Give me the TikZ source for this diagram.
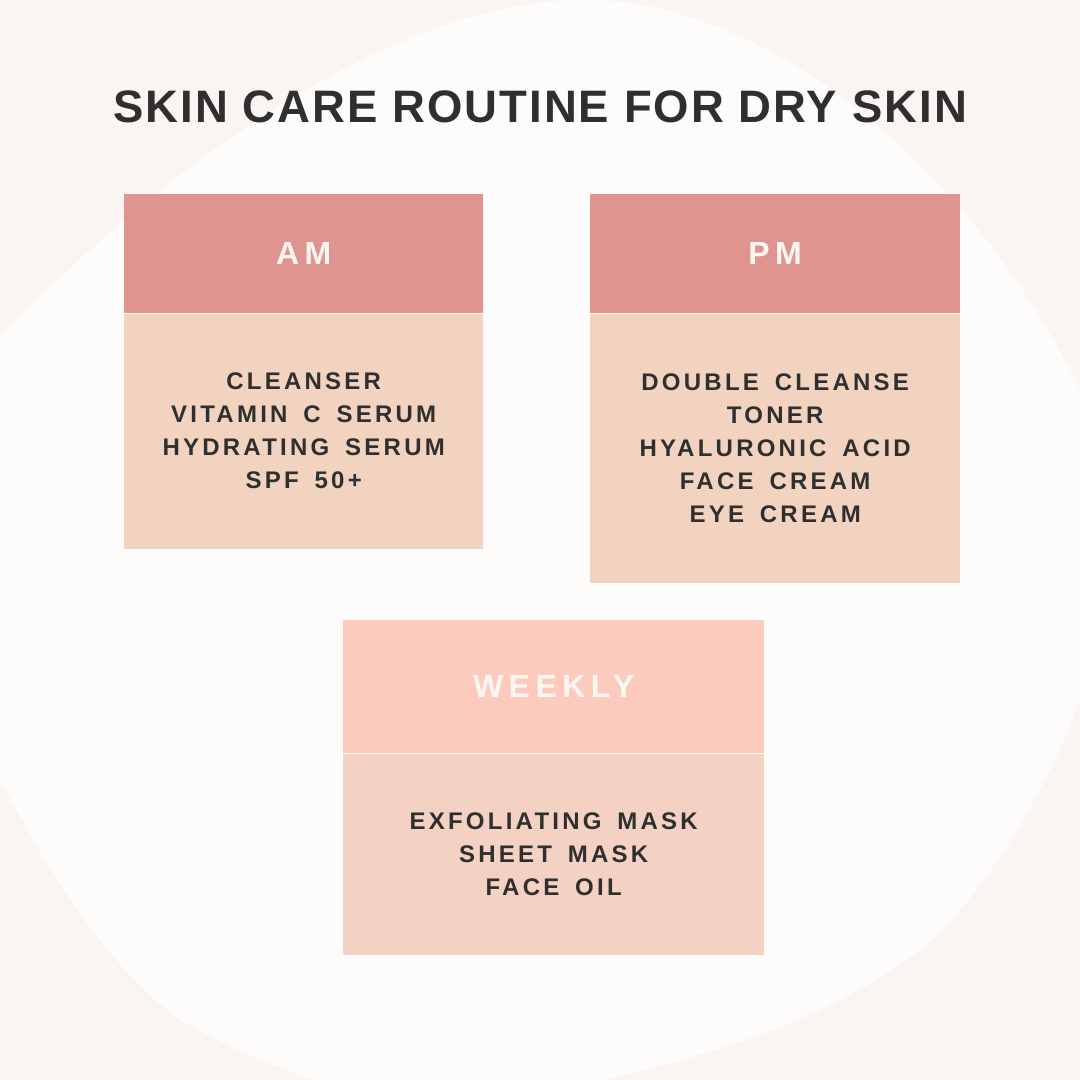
\documentclass[tikz,border=0pt]{standalone}
\usepackage{fontspec}
\setmainfont{Liberation Sans}
\newfontfamily\titlefont{Liberation Sans}[LetterSpace=4.5]
\newfontfamily\headfont{Liberation Sans}[LetterSpace=17]
\newfontfamily\itemfont{Liberation Sans}[LetterSpace=13.5, WordSpace=1.6]
\usetikzlibrary{positioning}
\definecolor{outerbg}{HTML}{FAF5F2}
\definecolor{blobbg}{HTML}{FEFCFB}
\definecolor{rosehead}{HTML}{E0948F}
\definecolor{peachbody}{HTML}{F1D3C0}
\definecolor{weekhead}{HTML}{FCCBBD}
\definecolor{weekbody}{HTML}{F3D2C4}
\definecolor{inkdark}{HTML}{2F2F2F}
\definecolor{headink}{HTML}{FDF7F3}

\begin{document}
\begin{tikzpicture}[x=1pt, y=-1pt,
  cardhead/.style={anchor=north west, inner sep=0, minimum height=119pt, text=headink,
    font=\headfont\bfseries\fontsize{32}{32}\selectfont},
  cardbody/.style={below=0pt of #1, inner sep=0, align=center, text=inkdark,
    font=\itemfont\bfseries\fontsize{24}{33}\selectfont}]
\useasboundingbox (0,0) rectangle (1080,1080);
\fill[outerbg] (0,0) rectangle (1080,1080);
\begin{scope}
\clip (0,0) rectangle (1080,1080);
\fill[blobbg] (-40,380) .. controls (150,170) and (380,10) .. (570,0)
  .. controls (770,-10) and (1010,190) .. (1115,470)
  .. controls (1130,630) and (1045,820) .. (940,933)
  .. controls (820,1040) and (620,1080) .. (450,1110)
  .. controls (350,1100) and (250,1060) .. (180,1020)
  .. controls (100,960) and (40,860) .. (-20,740) -- cycle;
\end{scope}

\node[text=inkdark, font=\titlefont\bfseries\fontsize{45.5}{45.5}\selectfont] (title) at (540,107) {SKIN CARE ROUTINE FOR DRY SKIN};

% morning
\node[cardhead, fill=rosehead, minimum width=359pt] (amhead) at (124,194) {AM};
\node[cardbody=amhead, fill=peachbody, minimum width=359pt, minimum height=235pt] (ambody)
  {CLEANSER\\VITAMIN C SERUM\\HYDRATING SERUM\\SPF 50+};

% evening
\node[cardhead, fill=rosehead, minimum width=370pt] (pmhead) at (590,194) {PM};
\node[cardbody=pmhead, fill=peachbody, minimum width=370pt, minimum height=269pt] (pmbody)
  {DOUBLE CLEANSE\\TONER\\HYALURONIC ACID\\FACE CREAM\\EYE CREAM};

% weekly
\node[cardhead, fill=weekhead, minimum width=421pt, minimum height=133pt] (wkhead) at (343,620) {WEEKLY};
\node[cardbody=wkhead, fill=weekbody, minimum width=421pt, minimum height=201pt] (wkbody)
  {EXFOLIATING MASK\\SHEET MASK\\FACE OIL};
\end{tikzpicture}
\end{document}
